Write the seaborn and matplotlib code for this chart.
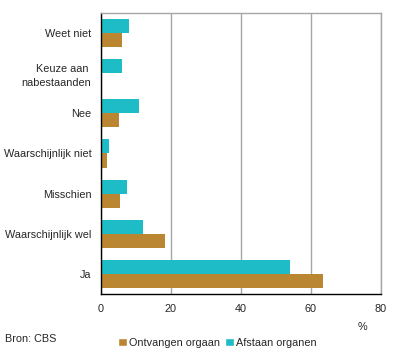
import pandas as pd
import matplotlib.pyplot as plt
import seaborn as sns
from matplotlib.patches import Patch
from matplotlib.ticker import FixedLocator

# Data (percentages)
categories = ["Weet niet", "Keuze aan \nnabestaanden", "Nee", "Waarschijnlijk niet",
              "Misschien", "Waarschijnlijk wel", "Ja"]
afstaan = [8.0, 6.0, 10.9, 2.3, 7.4, 12.0, 54.0]
ontvangen = [6.0, 0.0, 5.1, 1.7, 5.4, 18.3, 63.4]

series_names = ["Afstaan organen", "Ontvangen orgaan"]
colors = {"Afstaan organen": "#1EBCC6", "Ontvangen orgaan": "#BA8632"}

df = pd.DataFrame({
    "Categorie": categories * 2,
    "Reeks": [series_names[0]] * len(categories) + [series_names[1]] * len(categories),
    "Waarde": afstaan + ontvangen,
})

sns.set_style("white")
plt.rcParams['font.family'] = ['Liberation Sans', 'DejaVu Sans']
fs = 7.8

fig = plt.figure(figsize=(3.96, 3.59), dpi=100)
ax = fig.add_axes([0.255, 0.181, 0.707, 0.783])

sns.barplot(data=df, y="Categorie", x="Waarde", hue="Reeks", hue_order=series_names,
            order=categories, palette=colors, orient="h", width=0.7,
            saturation=1, linewidth=0, legend=False, ax=ax)

ax.set_xlim(0, 80)
ax.set_ylim(len(categories) - 0.5, -0.5)
ax.set_xticks([0, 20, 40, 60, 80])
ax.xaxis.grid(True, color="#A6A6A6", linewidth=1)
ax.set_axisbelow(True)

# spines
for side in ["top", "right"]:
    ax.spines[side].set_color("#A6A6A6")
    ax.spines[side].set_linewidth(1)
for side in ["left", "bottom"]:
    ax.spines[side].set_color("black")
    ax.spines[side].set_linewidth(1)

# category labels without ticks, separator ticks between categories
ax.tick_params(axis="y", which="major", length=0, pad=7, labelsize=fs)
ax.yaxis.set_minor_locator(FixedLocator([i - 0.5 for i in range(len(categories) + 1)]))
ax.tick_params(axis="y", which="minor", length=4, width=1, color="black", direction="out")
ax.tick_params(axis="x", length=4, width=1, color="black", direction="out", labelsize=fs, pad=3)
for lbl in ax.get_yticklabels():
    lbl.set_linespacing(1.45)

ax.set_xlabel("")
ax.set_ylabel("")

fig.text(362 / 396, 1 - 327 / 359, "%", fontsize=fs, ha="center", va="center")
fig.text(5 / 396, 1 - 339 / 359, "Bron: CBS", fontsize=fs, ha="left", va="center")

handles = [Patch(facecolor=colors["Ontvangen orgaan"], label="Ontvangen orgaan"),
           Patch(facecolor=colors["Afstaan organen"], label="Afstaan organen")]
fig.legend(handles=handles, loc="center left", bbox_to_anchor=(118 / 396, 1 - 343 / 359),
           ncol=2, frameon=False, fontsize=fs, handlelength=0.8, handleheight=0.8,
           handletextpad=0.2, columnspacing=0.5, borderpad=0, borderaxespad=0)

fig.savefig("out.png", dpi=100)
